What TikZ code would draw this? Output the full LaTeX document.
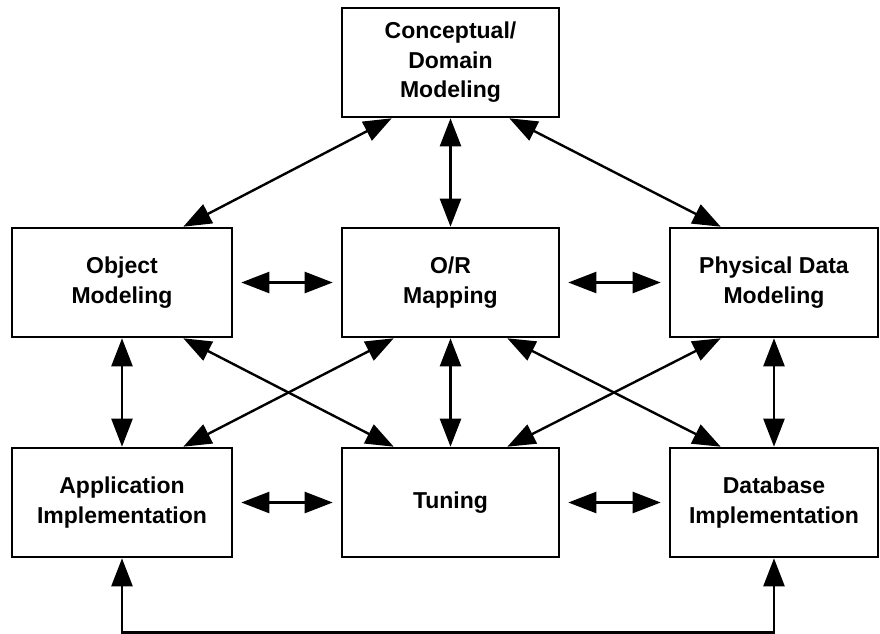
\documentclass[tikz,border=0pt]{standalone}
\usepackage{fontspec}
\setmainfont{Liberation Sans}
\usetikzlibrary{arrows.meta,positioning}
\tikzset{
  box/.style={draw, line width=2.6pt, minimum width=217pt, minimum height=109pt,
    align=center, font=\fontsize{23}{29.5}\selectfont\bfseries},
  link/.style={line width=2.4pt,
    {Triangle[length=28pt,width=21pt]}-{Triangle[length=28pt,width=21pt]}},
  gap/.style={shorten <=8pt, shorten >=8pt}
}

\begin{document}
\begin{tikzpicture}[x=1pt,y=-1pt]
        \useasboundingbox (0,0) rectangle (880,633);

        % Boxes
        \node[box] (concept) at (450.5,62.5) {Conceptual/\\Domain\\Modeling};
        \node[box, minimum width=220pt] (objmod) at (122,282.5) {Object\\Modeling};
        \node[box] (ormap) at (450.5,282.5) {O/R\\Mapping};
        \node[box, minimum width=208pt] (physmod) at (774,282.5) {Physical Data\\Modeling};
        \node[box, minimum width=220pt] (appimpl) at (122,502.5) {Application\\Implementation};
        \node[box] (tuning) at (450.5,502.5) {Tuning};
        \node[box, minimum width=208pt] (dbimpl) at (774,502.5) {Database\\Implementation};

        % Top links
        \draw[link] ([xshift=51pt]concept.south west) -- ([xshift=-50pt]objmod.north east);
        \draw[link] (concept.south) -- (ormap.north);
        \draw[link] ([xshift=-51pt]concept.south east) -- ([xshift=52pt]physmod.north west);

        % Middle row
        \draw[link, gap] (objmod.east) -- (ormap.west);
        \draw[link, gap] (ormap.east) -- (physmod.west);

        % Verticals
        \draw[link] (objmod.south) -- (appimpl.north);
        \draw[link] (ormap.south) -- (tuning.north);
        \draw[link] (physmod.south) -- (dbimpl.north);

        % Crossing links
        \draw[link] ([xshift=-50pt]objmod.south east) -- ([xshift=53pt]tuning.north west);
        \draw[link] ([xshift=53pt]ormap.south west) -- ([xshift=-50pt]appimpl.north east);
        \draw[link] ([xshift=-53pt]ormap.south east) -- ([xshift=52pt]dbimpl.north west);
        \draw[link] ([xshift=52pt]physmod.south west) -- ([xshift=-53pt]tuning.north east);

        % Bottom row
        \draw[link, gap] (appimpl.east) -- (tuning.west);
        \draw[link, gap] (tuning.east) -- (dbimpl.west);
        \draw[link] (appimpl.south) -- ++(0,74) -| (dbimpl.south);
      \end{tikzpicture}
\end{document}
